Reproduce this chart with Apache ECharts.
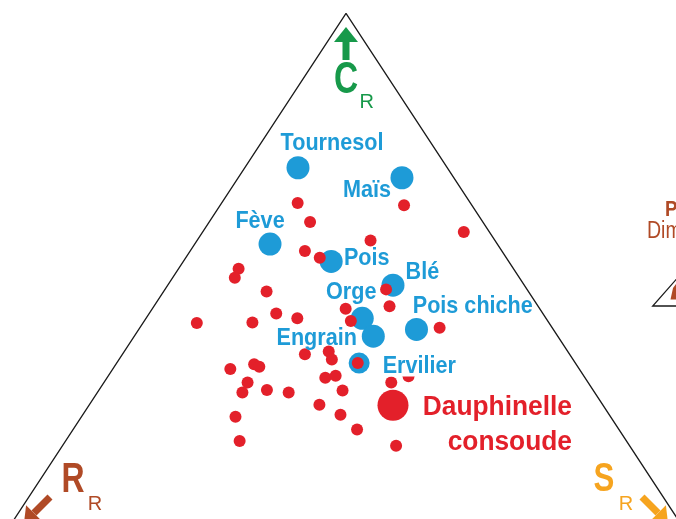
<!DOCTYPE html>
<html>
<head>
<meta charset="utf-8">
<title>Triangle CSR</title>
<script src="https://cdn.jsdelivr.net/npm/echarts@6/dist/echarts.min.js"></script>
<style>
  html, body { margin: 0; padding: 0; background: #fff; }
  #csrChart { width: 676px; height: 519px; }
</style>
</head>
<body>
<div id="csrChart"></div>
<script>
// cultures : C (%) et S (%) dans le triangle CSR, R = 100 - C - S
var cropNames = ['Tournesol', 'Maïs', 'Fève', 'Pois', 'Blé', 'Orge', 'Engrain', 'Pois chiche', 'Ervilier'];
var cropC = [70.7, 68.8, 56.2, 52.9, 48.4, 42.1, 38.7, 40.0, 33.6];
var cropS = [7.7, 23.7, 10.9, 21.4, 32.6, 31.3, 34.6, 40.2, 35.1];

// adventices
var weedC = [64.0, 60.4, 63.6, 58.5, 56.9, 54.9, 53.6, 51.5, 49.8, 47.2, 47.6, 44.4, 43.9, 43.0, 42.1, 41.2, 41.3, 41.6, 40.3, 35.3,
             35.8, 34.3, 33.6, 32.5, 33.4, 32.9, 31.1, 29.9, 28.0, 28.5, 28.0, 30.8, 31.2, 28.4, 29.9, 25.7, 23.8, 23.4, 21.0, 18.8, 17.9];
var weedS = [11.0, 14.6, 26.6, 37.8, 25.1, 16.6, 19.4, 8.7, 9.0, 14.9, 32.0, 34.1, 28.0, 18.4, 21.9, 7.8, 15.8, 29.9, 43.4, 26.4,
             29.6, 30.8, 34.9, 17.0, 20.0, 21.0, 43.5, 20.8, 21.0, 24.3, 27.7, 31.6, 32.9, 35.3, 41.6, 33.3, 37.3, 22.3, 41.1, 25.2, 48.3];

// espece mise en avant
var focusName = 'Dauphinelle\nconsoude';
var focusC = [25.6];
var focusS = [44.0];

// sommets du triangle (C, S)
var cornerC = [0, 100, 0];
var cornerS = [0, 0, 100];

var BLUE = '#1e9bd7', RED = '#e3202a', GREEN = '#17994a', BROWN = '#b04a26', ORANGE = '#f6a41f';
var FONT = "'Liberation Sans', Arial, sans-serif";

// decalage des etiquettes par rapport au point (px)
var cropLabelOffset = [[34, -24.3], [-35, 13], [-10, -23], [35.6, -3.4], [29.4, -12.5],
                       [-11, -26.3], [-56.6, 2], [56.3, -23.3], [60.2, 3.4]];
var focusLabelOffset = [179, 19.2];

// projection ternaire -> plan
function toXY(c, s) {
  return [s + c / 2, c];
}

function buildPoints(cArr, sArr) {
  var out = [];
  for (var i = 0; i < cArr.length; i++) {
    out.push(toXY(cArr[i], sArr[i]));
  }
  return out;
}

// texte condense (police etroite simulee)
function labelItem(params, api, offsets, names, color, size, sx, align, extra) {
  var p = api.coord([api.value(0), api.value(1)]);
  var off = offsets[params.dataIndex];
  var st = {
    text: names[params.dataIndex],
    fill: color,
    font: 'bold ' + size + 'px ' + FONT,
    align: align,
    verticalAlign: 'middle'
  };
  if (extra) {
    for (var key in extra) st[key] = extra[key];
  }
  return { type: 'text', x: p[0] + off[0], y: p[1] + off[1], scaleX: sx, style: st };
}

var myChart = echarts.init(document.getElementById('csrChart'), null, { renderer: 'canvas' });

var option = {
  animation: false,
  grid: { left: 0, right: 0, top: 0, bottom: 0 },
  xAxis: { type: 'value', min: -0.09, max: 97.77, show: false },
  yAxis: { type: 'value', min: 3.99, max: 102.56, show: false },
  series: [
    {
      name: 'triangle',
      type: 'line',
      data: buildPoints(cornerC, cornerS),
      symbol: 'none',
      lineStyle: { color: '#1a1a1a', width: 1.3 },
      silent: true,
      z: 1
    },
    {
      name: 'cultures',
      type: 'scatter',
      data: buildPoints(cropC, cropS),
      symbolSize: function (val, params) { return params.dataIndex === 8 ? 21 : 23; },
      itemStyle: { color: BLUE, opacity: 1 },
      z: 2
    },
    {
      name: 'adventices',
      type: 'scatter',
      data: buildPoints(weedC, weedS),
      symbolSize: 12,
      itemStyle: { color: RED, opacity: 1 },
      z: 3
    },
    {
      name: 'focus',
      type: 'scatter',
      data: buildPoints(focusC, focusS),
      symbolSize: 31,
      itemStyle: { color: RED, opacity: 1 },
      z: 4
    },
    {
      name: 'etiquettes cultures',
      type: 'custom',
      data: buildPoints(cropC, cropS),
      silent: true,
      renderItem: function (params, api) {
        var extra = null;
        if (cropNames[params.dataIndex] === 'Ervilier') {
          extra = { backgroundColor: '#fff', padding: [0, 1], lineHeight: 20 };
        }
        return labelItem(params, api, cropLabelOffset, cropNames, BLUE, 24, 0.9, 'center', extra);
      },
      z: 5
    },
    {
      name: 'etiquette focus',
      type: 'custom',
      data: buildPoints(focusC, focusS),
      silent: true,
      renderItem: function (params, api) {
        return labelItem(params, api, [focusLabelOffset], [focusName], RED, 28, 0.94, 'right', { lineHeight: 35 });
      },
      z: 5
    }
  ],
  graphic: [
    // C en haut
    { type: 'polygon', shape: { points: [[334, 42], [346, 27], [358, 42]] }, style: { fill: GREEN } },
    { type: 'rect', shape: { x: 342.5, y: 40, width: 7, height: 20 }, style: { fill: GREEN } },
    { type: 'text', x: 346, y: 81, scaleX: 0.76, style: { text: 'C', fill: GREEN, font: 'bold 44px ' + FONT, align: 'center', verticalAlign: 'middle' } },
    { type: 'text', x: 366.7, y: 102.5, style: { text: 'R', fill: GREEN, font: '20px ' + FONT, align: 'center', verticalAlign: 'middle' } },
    // R en bas a gauche
    { type: 'line', shape: { x1: 50, y1: 497, x2: 34, y2: 513 }, style: { stroke: BROWN, lineWidth: 7 } },
    { type: 'polygon', shape: { points: [[24, 523], [26.1, 505.3], [41.7, 520.9]] }, style: { fill: BROWN } },
    { type: 'text', x: 73, y: 480, scaleX: 0.76, style: { text: 'R', fill: BROWN, font: 'bold 42px ' + FONT, align: 'center', verticalAlign: 'middle' } },
    { type: 'text', x: 95, y: 504, style: { text: 'R', fill: BROWN, font: '20px ' + FONT, align: 'center', verticalAlign: 'middle' } },
    // S en bas a droite
    { type: 'line', shape: { x1: 642, y1: 497, x2: 658, y2: 513 }, style: { stroke: ORANGE, lineWidth: 7 } },
    { type: 'polygon', shape: { points: [[668, 523], [665.9, 505.3], [650.3, 520.9]] }, style: { fill: ORANGE } },
    { type: 'text', x: 604, y: 480, scaleX: 0.78, style: { text: 'S', fill: ORANGE, font: 'bold 40px ' + FONT, align: 'center', verticalAlign: 'middle' } },
    { type: 'text', x: 626, y: 504, style: { text: 'R', fill: ORANGE, font: '20px ' + FONT, align: 'center', verticalAlign: 'middle' } },
    // encart coupe a droite
    { type: 'text', x: 665, y: 210, scaleX: 0.85, style: { text: 'P', fill: BROWN, font: 'bold 22px ' + FONT, align: 'left', verticalAlign: 'middle' } },
    { type: 'text', x: 647, y: 231.5, scaleX: 0.85, style: { text: 'Dim', fill: BROWN, font: '23px ' + FONT, align: 'left', verticalAlign: 'middle' } },
    { type: 'polyline', shape: { points: [[690, 263.8], [652.7, 306], [690, 306]] }, style: { stroke: '#1a1a1a', lineWidth: 1.3, fill: null } },
    { type: 'polygon', shape: { points: [[670.5, 299.5], [673, 288], [676, 284], [676, 299.5]] }, style: { fill: BROWN } }
  ]
};

// afficher le graphique
myChart.setOption(option);
</script>
</body>
</html>
